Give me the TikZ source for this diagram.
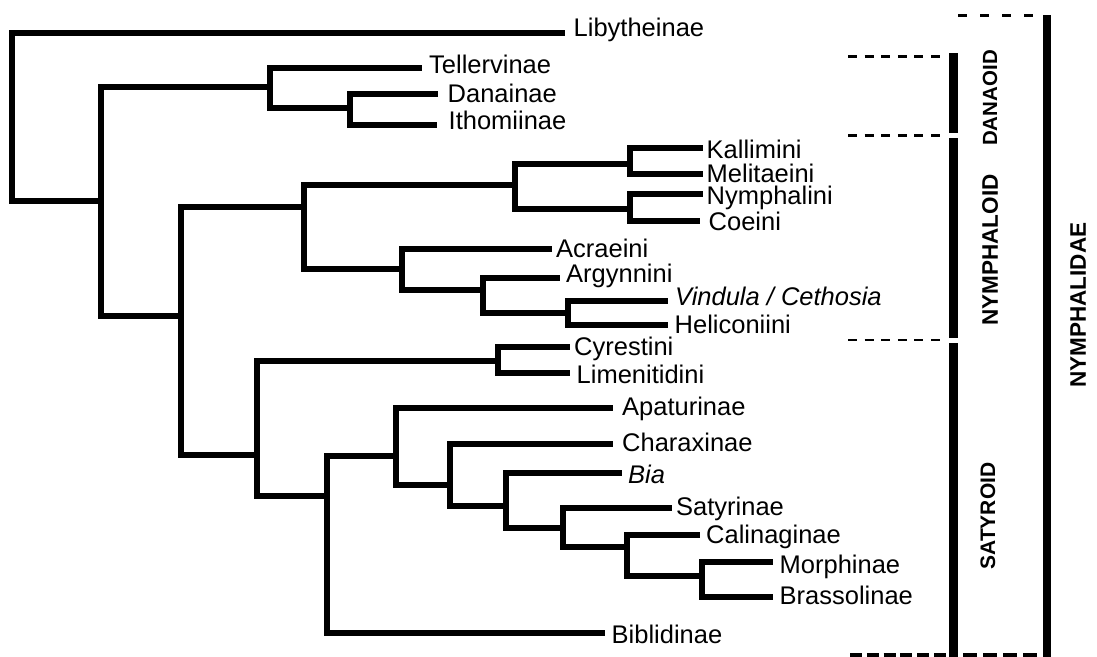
\documentclass[tikz,border=0pt]{standalone}
\usepackage{fontspec}
\setmainfont{Liberation Sans}
\newcommand\tipfont{\fontsize{25.5}{30}\selectfont}
\newcommand\grpfont{\fontsize{20.5}{24}\selectfont\bfseries}
\tikzset{
  br/.style={line width=6pt, line join=miter, line cap=butt},
  tip/.style={anchor=base west, inner sep=0pt, font=\tipfont, text=black},
  grp/.style={inner sep=0pt, font=\grpfont, text=black, rotate=90},
  bar/.style={line width=8.5pt},
  dthick/.style={line width=3.5pt, dash pattern=on 9pt off 7.6pt},
  dthin/.style={line width=2pt, dash pattern=on 9pt off 7.6pt},
}
\begin{document}
\begin{tikzpicture}[x=1pt,y=-1pt]
\fill[white] (0,0) rectangle (1097,656);
\useasboundingbox (0,0) rectangle (1097,656);

% internal nodes
\coordinate (R)  at (12,117);
\coordinate (N1) at (101,201);
\coordinate (D)  at (270,87);
\coordinate (D2) at (350,108);
\coordinate (N2) at (181,316);
\coordinate (N3) at (304,207);
\coordinate (K)  at (515,185);
\coordinate (K1) at (630,164);
\coordinate (K2) at (630,209);
\coordinate (A)  at (402,269);
\coordinate (A2) at (483,290);
\coordinate (A3) at (568,313);
\coordinate (S1) at (257,455);
\coordinate (C)  at (498,361);
\coordinate (S2) at (327,496);
\coordinate (S3) at (396,456);
\coordinate (S4) at (450,485);
\coordinate (S5) at (506,506);
\coordinate (S6) at (563,528);
\coordinate (S7) at (627,547);
\coordinate (S8) at (702,576);

% leaf line ends
\coordinate (eLib) at (565,33);
\coordinate (eTel) at (422,68);
\coordinate (eDan) at (438,94);
\coordinate (eIth) at (437,125);
\coordinate (eKal) at (703,148);
\coordinate (eMel) at (703,174);
\coordinate (eNym) at (703,194);
\coordinate (eCoe) at (700,221);
\coordinate (eAcr) at (552,249);
\coordinate (eArg) at (560,278);
\coordinate (eVin) at (668,301);
\coordinate (eHel) at (668,325);
\coordinate (eCyr) at (570,347);
\coordinate (eLim) at (570,373);
\coordinate (eApa) at (613,408);
\coordinate (eCha) at (613,444);
\coordinate (eBia) at (622,473);
\coordinate (eSat) at (672,508);
\coordinate (eCal) at (700,535);
\coordinate (eMor) at (773,562);
\coordinate (eBra) at (773,597);
\coordinate (eBib) at (605,633);

% branches
\foreach \p/\c in {R/eLib,R/N1,N1/D,N1/N2,D/eTel,D/D2,D2/eDan,D2/eIth,
  N2/N3,N2/S1,N3/K,N3/A,K/K1,K/K2,K1/eKal,K1/eMel,K2/eNym,K2/eCoe,
  A/eAcr,A/A2,A2/eArg,A2/A3,A3/eVin,A3/eHel,
  S1/C,S1/S2,C/eCyr,C/eLim,S2/S3,S2/eBib,S3/eApa,S3/S4,S4/eCha,S4/S5,
  S5/eBia,S5/S6,S6/eSat,S6/S7,S7/eCal,S7/S8,S8/eMor,S8/eBra}
  \draw[br] (\p) |- (\c);

% tip labels
\node[tip] (Lib) at (573.5,36) {Libytheinae};
\node[tip] (Tel) at (429,73) {Tellervinae};
\node[tip] (Dan) at (447.5,102) {Danainae};
\node[tip] (Ith) at (448.5,129) {Ithomiinae};
\node[tip] (Kal) at (706.5,158) {Kallimini};
\node[tip] (Mel) at (706.5,182) {Melitaeini};
\node[tip] (Nym) at (706.5,204) {Nymphalini};
\node[tip] (Coe) at (708.5,230) {Coeini};
\node[tip] (Acr) at (556,257) {Acraeini};
\node[tip] (Arg) at (566,282) {Argynnini};
\node[tip] (Vin) at (675,305) {\itshape Vindula / Cethosia};
\node[tip] (Hel) at (674.5,333) {Heliconiini};
\node[tip] (Cyr) at (574,355) {Cyrestini};
\node[tip] (Lim) at (576.5,383) {Limenitidini};
\node[tip] (Apa) at (622,415) {Apaturinae};
\node[tip] (Cha) at (622,451) {Charaxinae};
\node[tip] (Bia) at (628,483) {\itshape Bia};
\node[tip] (Sat) at (676,515) {Satyrinae};
\node[tip] (Cal) at (706,543) {Calinaginae};
\node[tip] (Mor) at (779.5,573) {Morphinae};
\node[tip] (Bra) at (779.5,604) {Brassolinae};
\node[tip] (Bib) at (611.5,643) {Biblidinae};

% group bars
\coordinate (nTop) at (1047,15);
\coordinate (nBot) at (1047,662);
\draw[bar] (nTop) -- (nBot);
\coordinate (dTop) at (953.5,53);
\coordinate (dBot) at (953.5,133);
\draw[bar] (dTop) -- (dBot);
\coordinate (oTop) at (953.5,138);
\coordinate (oBot) at (953.5,338);
\draw[bar] (oTop) -- (oBot);
\coordinate (sTop) at (953.5,343);
\coordinate (sBot) at (953.5,662);
\draw[bar] (sTop) -- (sBot);

% dashed separators
\coordinate (t1) at (958,15.5);  \coordinate (t2) at (1036,15.5);
\draw[line width=3.5pt, dash pattern=on 9pt off 13pt] (t1) -- (t2);
\coordinate (a1) at (848,56.5);  \coordinate (a2) at (942,56.5);
\draw[dthick] (a1) -- (a2);
\coordinate (b1) at (848,135.5); \coordinate (b2) at (942,135.5);
\draw[dthick] (b1) -- (b2);
\coordinate (c1) at (848,340);   \coordinate (c2) at (942,340);
\draw[dthin] (c1) -- (c2);
\coordinate (f1) at (850,654.5); \coordinate (f2) at (946,654.5);
\draw[line width=4pt, dash pattern=on 12pt off 4.8pt] (f1) -- (f2);
\coordinate (g1) at (963,654.5); \coordinate (g2) at (1040,654.5);
\draw[line width=4pt, dash pattern=on 14pt off 6pt] (g1) -- (g2);

% group labels
\node[grp] (danaoid) at (990,98) {DANAOID};
\node[grp, font=\fontsize{22.5}{26}\selectfont\bfseries] (nymphaloid) at (990,250) {NYMPHALOID};
\node[grp, font=\fontsize{21}{25}\selectfont\bfseries] (satyroid) at (988,516) {SATYROID};
\node[grp, font=\fontsize{22.5}{26}\selectfont\bfseries] (nymphalidae) at (1078,305) {NYMPHALIDAE};
\end{tikzpicture}
\end{document}
